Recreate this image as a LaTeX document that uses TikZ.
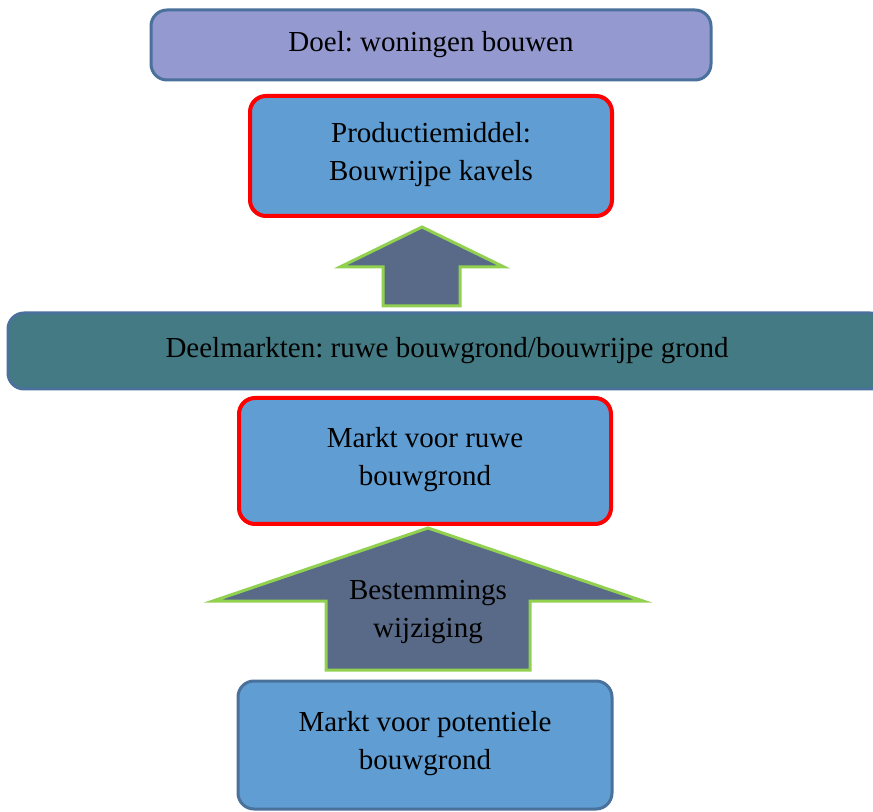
\documentclass[tikz,border=0pt]{standalone}
\usepackage{fontspec}
\newfontfamily\timesfont{LiberationSerif-Regular.ttf}
\usepackage{xcolor}
\definecolor{doelfill}{HTML}{9499CF}
\definecolor{boxfill}{HTML}{5F9DD2}
\definecolor{boxline}{HTML}{4A719B}
\definecolor{arrowfill}{HTML}{586A87}
\definecolor{arrowline}{HTML}{92D050}
\definecolor{bandfill}{HTML}{437A83}
\usetikzlibrary{positioning}

\begin{document}
\frenchspacing
\begin{tikzpicture}[x=0.5pt,y=-0.5pt,
  every node/.style={font=\timesfont\fontsize{14.5}{19}\selectfont,align=center,inner sep=0pt},
  markt/.style={draw=boxline,line width=1.5pt,fill=boxfill,rounded corners=8pt},
  middel/.style={markt,draw=red,line width=2pt},
  blockarrow/.style={draw=arrowline,line width=1.5pt,fill=arrowfill}]
\clip(0,0)rectangle(873,812);
\fill[white](0,0)rectangle(873,812);

\node[markt,fill=doelfill,minimum width=280pt,minimum height=35pt](doel)at(431,45){Doel: woningen bouwen};
\node[middel,minimum width=181pt,minimum height=60pt](kavels)at(431,156){Productiemiddel:\\Bouwrijpe kavels\\[-14pt]};

\draw[blockarrow](422,227)--(504,267)--(460,267)--(460,306)--(383,306)--(383,267)--(340,267)--cycle;

\node[markt,fill=bandfill,minimum width=439pt,minimum height=38pt](deelmarkt)at(447,351){Deelmarkten: ruwe bouwgrond/bouwrijpe grond};

\node[middel,minimum width=186pt,minimum height=63pt](ruwe)at(425,461){Markt voor ruwe\\bouwgrond\\[-14pt]};

\draw[blockarrow](428,528)--(643,601)--(530,601)--(530,670)--(326,670)--(326,601)--(213,601)--cycle;
\node(bestemming)at(428,612){Bestemmings\\wijziging};

\node[markt,minimum width=187pt,minimum height=64pt](potentieel)at(425,745){Markt voor potentiele\\bouwgrond\\[-14pt]};
\end{tikzpicture}
\end{document}
